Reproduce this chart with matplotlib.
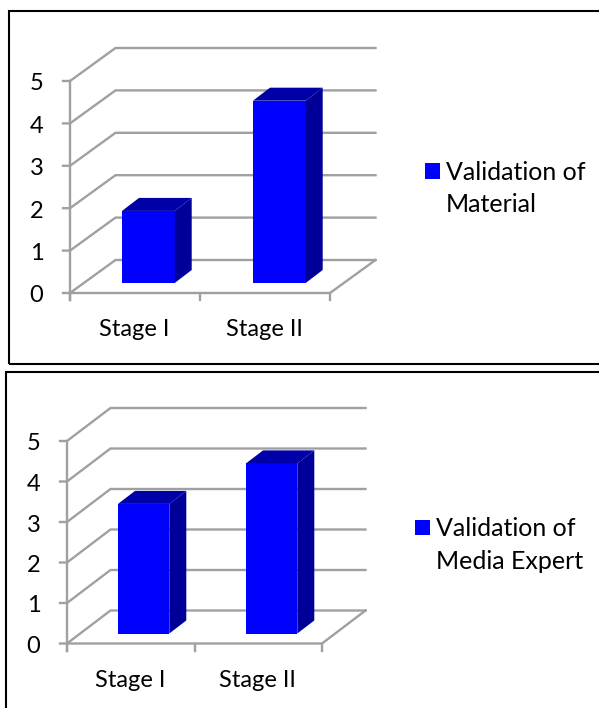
import matplotlib
matplotlib.use("Agg")
import matplotlib.pyplot as plt
from matplotlib.patches import Polygon, Rectangle

W, H = 599, 708

categories = ["Stage I", "Stage II"]
ticks = [0, 1, 2, 3, 4, 5]
material = [1.7, 4.3]
media = [3.2, 4.2]

plt.rcParams['font.family'] = ['Lato', 'DejaVu Sans']
fig = plt.figure(figsize=(W / 100, H / 100), dpi=100)
GRID = '#a0a0a0'


def panel(frame, box, depth, vals, bar_x, bar_w, legend_xy, legend_lines, line_gap):
    # frame and box are pixels from the top left of the picture
    x0, x1, y0, y5 = box
    fig.add_artist(Rectangle((frame[0] / W, 1 - frame[3] / H), (frame[2] - frame[0]) / W,
                             (frame[3] - frame[1]) / H, fill=False, ec='black', lw=1.5,
                             transform=fig.transFigure))
    ax = fig.add_axes([x0 / W, 1 - y0 / H, (x1 - x0) / W, (y0 - y5) / H])
    ax.set_xlim(0, 2)
    ax.set_ylim(0, 5)
    ax.axis('off')
    ux = (x1 - x0) / 2.0
    uy = (y0 - y5) / 5.0
    # depth of the floor, in data units
    dx = depth / ux
    dy = 33.0 / uy

    for t in ticks:
        ax.plot([-7 / ux, 0, dx, 2 + dx], [t, t, t + dy, t + dy], color=GRID, lw=1.7,
                clip_on=False, solid_joinstyle='miter', zorder=1)
        ax.text(-26.5 / ux, t - 3 / uy, str(t), ha='right', va='center', fontsize=17, clip_on=False)
    ax.plot([0, 0], [-7 / uy, 5], color=GRID, lw=1.7, clip_on=False, zorder=1)
    ax.plot([0, 2, 2 + dx], [0, 0, dy], color=GRID, lw=1.7, clip_on=False, zorder=1)
    for i in range(3):
        ax.plot([i, i], [-7 / uy, 0], color=GRID, lw=1.7, clip_on=False, zorder=1)

    bw = bar_w / ux
    sx = 17.0 / ux
    sy = 13.0 / uy
    base = 10.0 / uy
    for i, v in enumerate(vals):
        left = (bar_x[i] - x0) / ux
        top = base + v
        ax.add_patch(Rectangle((left, base), bw, v, fc='#0000ff', ec='none', clip_on=False, zorder=3))
        ax.add_patch(Polygon([(left + bw, base), (left + bw + sx, base + sy),
                              (left + bw + sx, top + sy), (left + bw, top)],
                             fc='#000099', ec='none', clip_on=False, zorder=3))
        ax.add_patch(Polygon([(left, top), (left + bw, top),
                              (left + bw + sx, top + sy), (left + sx, top + sy)],
                             fc='#0000a8', ec='none', clip_on=False, zorder=3))
        ax.text(i + 0.5 - 1 / ux, -37 / uy, categories[i], ha='center', va='center', fontsize=17, clip_on=False)

    lx, ly = legend_xy
    fig.add_artist(Rectangle((lx / W, 1 - (ly + 7.5) / H), 15 / W, 15 / H, fc='#0000ff', ec='none',
                             transform=fig.transFigure))
    fig.text((lx + 21) / W, 1 - (ly + 2) / H, legend_lines[0], ha='left', va='center', fontsize=18)
    fig.text((lx + 21) / W, 1 - (ly + 1.5 + line_gap) / H, legend_lines[1], ha='left', va='center', fontsize=18)


panel((9, 11, 640, 364), (70, 330, 293, 81), 45.5, material, [122, 253], 52.7, (425, 171),
      ["Validation of", "Material"], 32)
panel((6, 372, 640, 720), (67, 322, 643.5, 441), 43.5, media, [118, 246], 51.3, (415, 527),
      ["Validation of", "Media Expert"], 33)

fig.savefig("out.png", dpi=100)
